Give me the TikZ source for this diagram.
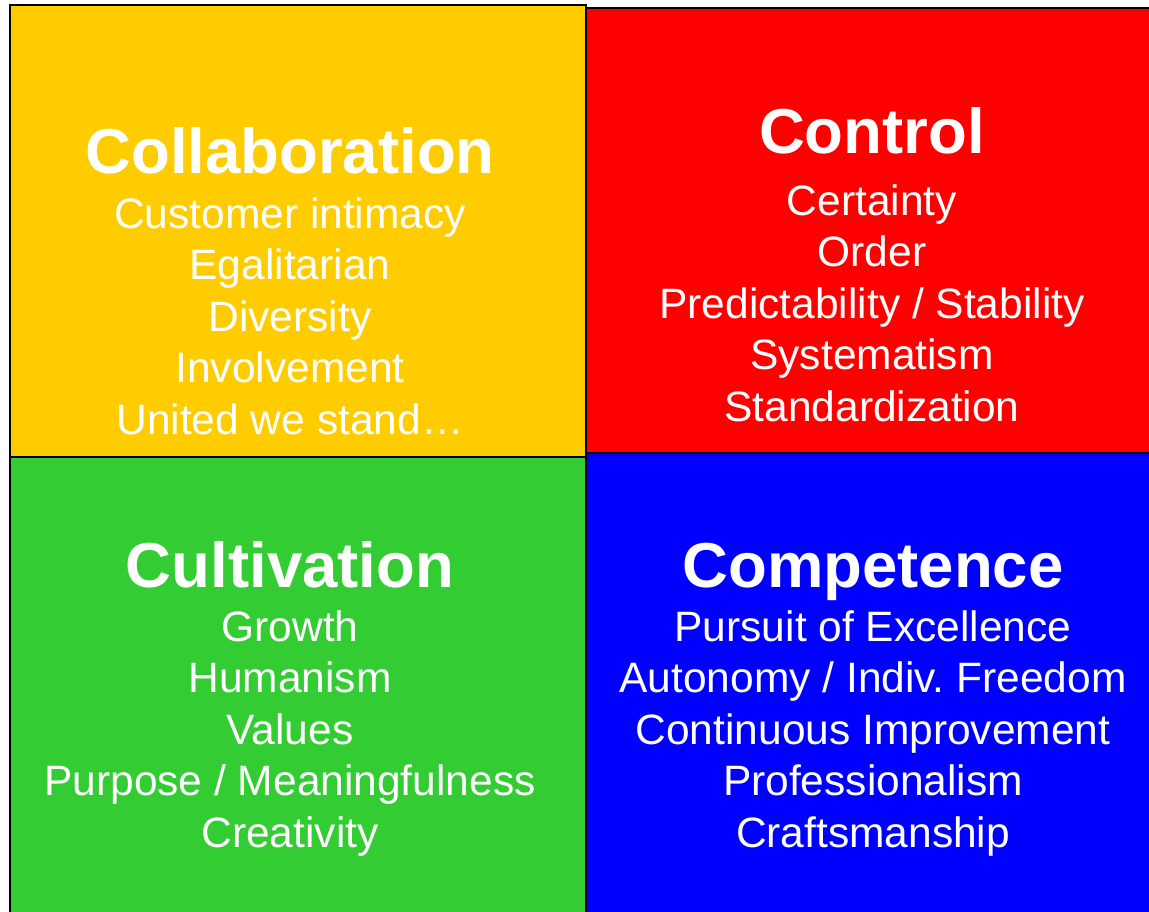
\documentclass[tikz,border=0pt]{standalone}
\usepackage{fontspec}
\setmainfont{Liberation Sans}
\frenchspacing
\definecolor{qyellow}{HTML}{FFCC00}
\definecolor{qred}{HTML}{FF0000}
\definecolor{qgreen}{HTML}{33CC33}
\definecolor{qblue}{HTML}{0000FF}
\tikzset{
  quad/.style={draw=black, line width=2pt},
  ttl/.style={anchor=base, text=white, inner sep=0pt, font=\bfseries\fontsize{63.5}{63.5}\selectfont},
  itm/.style={anchor=base, text=white, inner sep=0pt, font=\fontsize{42.5}{42.5}\selectfont}
}
\begin{document}
\begin{tikzpicture}[x=1pt,y=-1pt]
\useasboundingbox (0,0) rectangle (1149,911);
\fill[white] (0,0) rectangle (1149,911);
% quadrants
\path[quad, fill=qred] (586,8) rectangle (1155,453);
\path[quad, fill=qblue] (586,453) rectangle (1155,916);
\path[quad, fill=qgreen] (10,457) rectangle (586,916);
\path[quad, fill=qyellow] (10,5) rectangle (586,457);
% Collaboration
\node[ttl] (t1) at (290,173) {Collaboration};
\node[itm] (a1) at (290,228) {Customer intimacy};
\node[itm] (a2) at (290,279.5) {Egalitarian};
\node[itm] (a3) at (290,331) {Diversity};
\node[itm] (a4) at (290,382.5) {Involvement};
\node[itm] (a5) at (290,434) {United we stand…};
% Control
\node[ttl] (t2) at (872,153) {Control};
\node[itm] (b1) at (872,215) {Certainty};
\node[itm] (b2) at (872,266.5) {Order};
\node[itm] (b3) at (872,318) {Predictability / Stability};
\node[itm] (b4) at (872,369.5) {Systematism};
\node[itm] (b5) at (872,421) {Standardization};
% Cultivation
\node[ttl] (t3) at (290,587) {Cultivation};
\node[itm] (c1) at (290,641) {Growth};
\node[itm] (c2) at (290,692.5) {Humanism};
\node[itm] (c3) at (290,744) {Values};
\node[itm] (c4) at (290,795.5) {Purpose / Meaningfulness};
\node[itm] (c5) at (290,847) {Creativity};
% Competence
\node[ttl] (t4) at (873,587) {Competence};
\node[itm] (d1) at (873,641) {Pursuit of Excellence};
\node[itm] (d2) at (873,692.5) {Autonomy / Indiv.\ Freedom};
\node[itm] (d3) at (873,744) {Continuous Improvement};
\node[itm] (d4) at (873,795.5) {Professionalism};
\node[itm] (d5) at (873,847) {Craftsmanship};
\end{tikzpicture}
\end{document}
